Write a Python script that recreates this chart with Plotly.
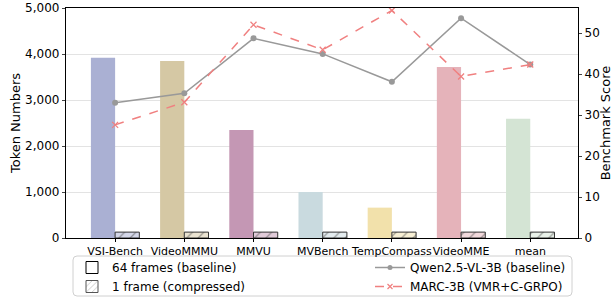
import plotly.graph_objects as go

categories = ["VSI-Bench", "VideoMMMU", "MMVU", "MVBench", "TempCompass", "VideoMME", "mean"]
tokens_64 = [3920, 3850, 2350, 1000, 660, 3720, 2590]
tokens_1 = [128, 128, 128, 128, 128, 128, 128]
qwen_scores = [33.0, 35.3, 48.7, 44.9, 38.1, 53.6, 42.3]
marc_scores = [27.6, 33.1, 52.0, 45.9, 55.5, 39.4, 42.3]

bar_colors = ["#aab0d3", "#d5c8a4", "#c497b4", "#c9dadf", "#f2e1ab", "#e5b3ba", "#d4e4d4"]
hatch_bg = ["#d4d7e9", "#eae3d1", "#e1cbd9", "#e4ecef", "#f8f0d5", "#f2d9dc", "#e9f1e9"]

FONT = "DejaVu Sans"
fig = go.Figure()

fig.add_trace(go.Bar(
    x=categories, y=tokens_64, marker=dict(color=bar_colors, line=dict(width=0)),
    showlegend=False, yaxis="y", offsetgroup="a"))
fig.add_trace(go.Bar(
    x=categories, y=tokens_1,
    marker=dict(color=hatch_bg, line=dict(color="#333333", width=1),
                pattern=dict(shape="/", fgcolor="#444444", size=8, solidity=0.15)),
    showlegend=False, yaxis="y", offsetgroup="b"))

fig.add_trace(go.Scatter(
    x=categories, y=qwen_scores, mode="lines+markers", yaxis="y2",
    line=dict(color="#999999", width=1.5),
    marker=dict(symbol="circle", size=6, color="#999999"),
    showlegend=False))
fig.add_trace(go.Scatter(
    x=categories, y=marc_scores, mode="lines+markers", yaxis="y2",
    line=dict(color="#f08080", width=1.5, dash="dash"),
    marker=dict(symbol="x-thin", size=6, color="#f08080", line=dict(color="#f08080", width=1.3)),
    showlegend=False))

# legend proxies
fig.add_trace(go.Bar(x=[None], y=[None], name="64 frames (baseline)",
                     marker=dict(color="white", line=dict(color="black", width=1)), legend="legend"))
fig.add_trace(go.Bar(x=[None], y=[None], name="1 frame (compressed)",
                     marker=dict(color="white", line=dict(color="#555555", width=1),
                                 pattern=dict(shape="/", fgcolor="#555555", size=5, solidity=0.15)),
                     legend="legend"))
fig.add_trace(go.Scatter(x=[None], y=[None], name="Qwen2.5-VL-3B (baseline)", mode="lines+markers",
                         line=dict(color="#999999", width=1.5),
                         marker=dict(symbol="circle", size=5, color="#999999"), legend="legend2"))
fig.add_trace(go.Scatter(x=[None], y=[None], name="MARC-3B (VMR+C-GRPO)", mode="lines+markers",
                         line=dict(color="#f08080", width=1.5, dash="dash"),
                         marker=dict(symbol="x-thin", size=5, color="#f08080",
                                     line=dict(color="#f08080", width=1.2)), legend="legend2"))

W, H = 613, 297
L, R, T, B = 66, 35, 8, 59
pw, ph = W - L - R, H - T - B

def px(x):
    return (x - L) / pw

def py(y):
    return (H - B - y) / ph

x0, x1, y0, y1 = px(73), px(572), py(256), py(296)
rx, ry = 4 / pw, 4 / ph
path = (f"M{x0+rx},{y0} L{x1-rx},{y0} Q{x1},{y0} {x1},{y0-ry} L{x1},{y1+ry} Q{x1},{y1} {x1-rx},{y1} "
        f"L{x0+rx},{y1} Q{x0},{y1} {x0},{y1+ry} L{x0},{y0-ry} Q{x0},{y0} {x0+rx},{y0} Z")

fig.update_layout(
    width=W, height=H,
    margin=dict(l=L, r=R, t=T, b=B, autoexpand=False),
    paper_bgcolor="white", plot_bgcolor="white",
    font=dict(family=FONT, size=11, color="black"),
    barmode="group", bargap=0.3, bargroupgap=0,
    xaxis=dict(range=[-0.71, 6.69], showline=True, linecolor="black", linewidth=1.3, mirror=True,
               ticks="outside", ticklen=3, tickcolor="black", showgrid=False, tickangle=0,
               automargin=False, tickfont=dict(size=11)),
    yaxis=dict(range=[0, 5000], tickvals=[0, 1000, 2000, 3000, 4000, 5000], tickformat=",",
               showline=True, linecolor="black", linewidth=1.3, ticks="outside", ticklen=3,
               showgrid=True, gridcolor="#e3e3e3", gridwidth=1, zeroline=False, automargin=False,
               title=dict(text="Token Numbers", font=dict(size=13), standoff=1),
               tickfont=dict(size=12)),
    yaxis2=dict(range=[0, 56.1], tickvals=[0, 10, 20, 30, 40, 50], overlaying="y", side="right",
                showline=True, linecolor="black", linewidth=1.3, ticks="outside", ticklen=3,
                showgrid=False, zeroline=False, automargin=False,
                title=dict(text="Benchmark Score", font=dict(size=13), standoff=2),
                tickfont=dict(size=12)),
    legend=dict(x=px(72), y=py(253), xanchor="left", yanchor="top", bgcolor="rgba(0,0,0,0)",
                font=dict(size=12), tracegroupgap=0, itemwidth=30),
    legend2=dict(x=px(370), y=py(253), xanchor="left", yanchor="top", bgcolor="rgba(0,0,0,0)",
                 font=dict(size=12), tracegroupgap=0, itemwidth=30),
    shapes=[dict(type="path", xref="paper", yref="paper", path=path,
                 line=dict(color="#d0d0d0", width=1), fillcolor="rgba(0,0,0,0)", layer="below")],
)

fig.write_html("out.html", config={"displayModeBar": False},
               post_script="document.body.style.margin='0';")
